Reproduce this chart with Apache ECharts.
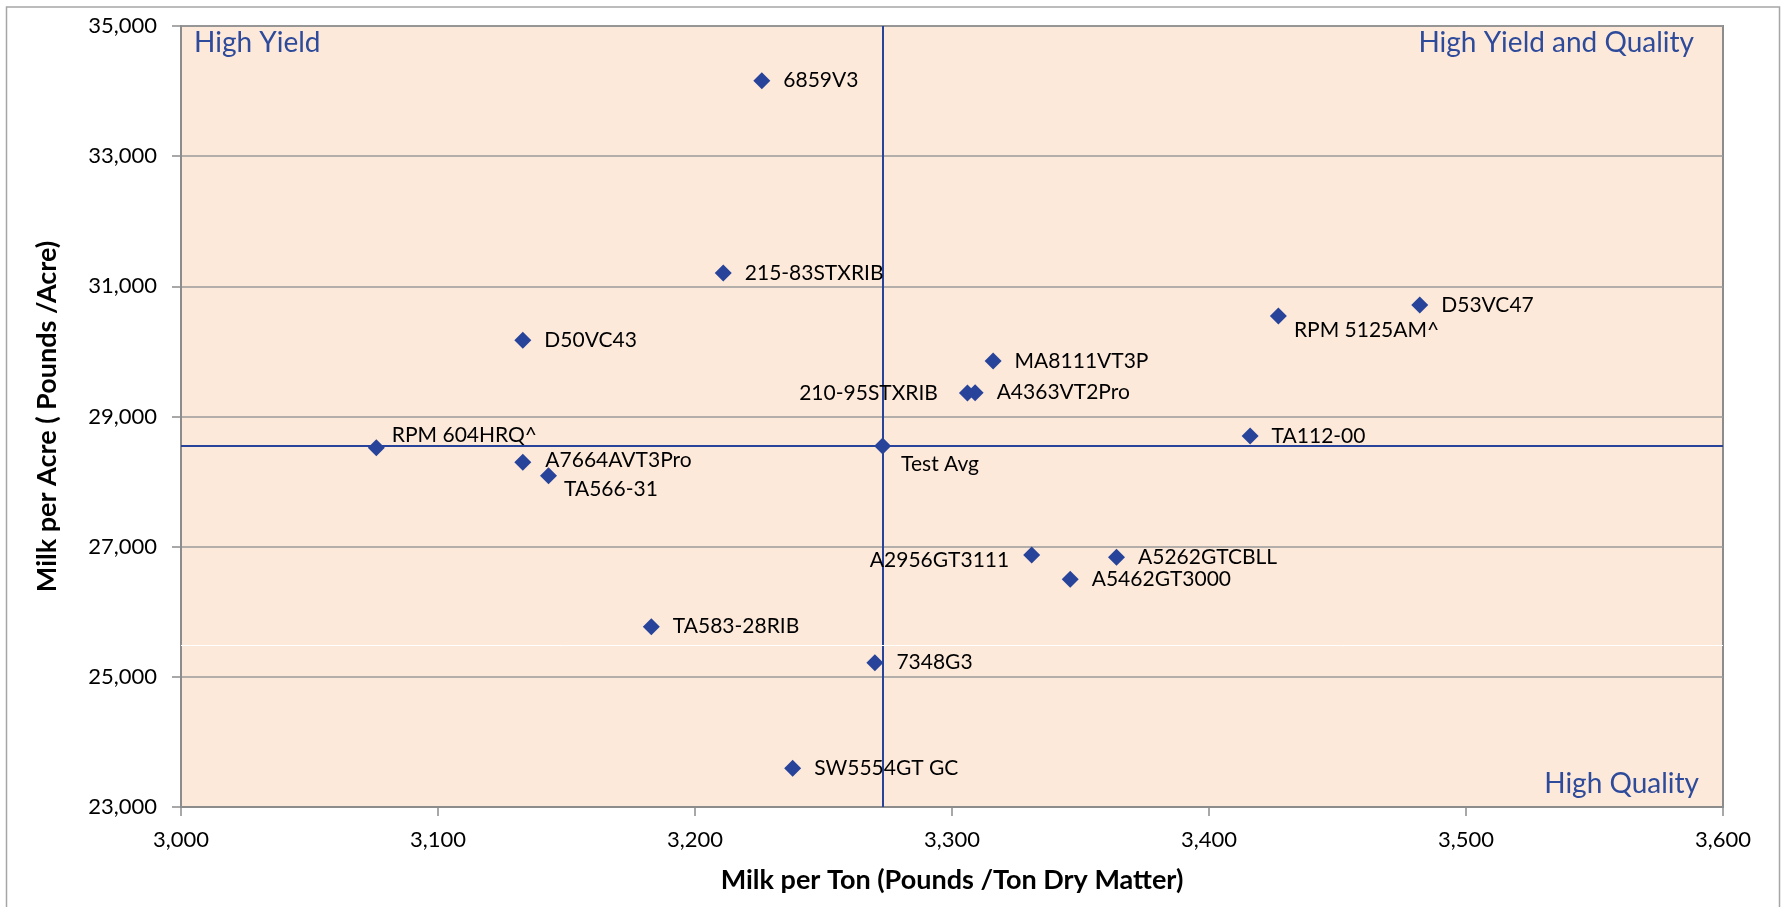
<!DOCTYPE html>
<html>
<head>
<meta charset="utf-8">
<script src="https://cdn.jsdelivr.net/npm/echarts@6/dist/echarts.min.js"></script>
<style>
html,body{margin:0;padding:0;background:#fff;}
#chart{width:1787px;height:907px;}
</style>
</head>
<body>
<div id="chart"></div>
<script>
// ---- data ----
const hybrids = ['6859V3','215-83STXRIB','D50VC43','RPM 604HRQ^','A7664AVT3Pro','TA566-31','TA583-28RIB','7348G3','SW5554GT GC','Test Avg','210-95STXRIB','A4363VT2Pro','MA8111VT3P','A2956GT3111','A5462GT3000','A5262GTCBLL','TA112-00','RPM 5125AM^','D53VC47'];
const milkPerTon = [3226,3211,3133,3076,3133,3143,3183,3270,3238,3273,3306,3309,3316,3331,3346,3364,3416,3427,3482];
const milkPerAcre = [34160,31205,30173,28520,28296,28090,25770,25217,23594,28548,29360,29366,29852,26872,26498,26836,28700,30544,30713];
const testAvgTon = 3273;
const testAvgAcre = 28548;
const xTicks = [3000,3100,3200,3300,3400,3500,3600];
const yTicks = [23000,25000,27000,29000,31000,33000,35000];
const quadrantLabels = ['High Yield','High Yield and Quality','High Quality'];

// ---- label placement (style only) ----
const labelStyle = {
  'RPM 604HRQ^': {offset:[-6,-13]},
  'A7664AVT3Pro': {offset:[1,-2]},
  'TA566-31': {offset:[-6,14]},
  'Test Avg': {offset:[-3,18]},
  'RPM 5125AM^': {offset:[-6,14]},
  '210-95STXRIB': {position:'left', distance:21},
  'A2956GT3111': {position:'left', distance:14, offset:[0,5]}
};

const FONT = 'Lato, "Open Sans", sans-serif';
const BLUE = '#27449a';

const data = hybrids.map((n,i)=>{
  const d = {name:n, value:[milkPerTon[i], milkPerAcre[i]]};
  if (labelStyle[n]) d.label = Object.assign({}, labelStyle[n]);
  return d;
});

const fmt = v => v.toLocaleString('en-US');

const chart = echarts.init(document.getElementById('chart'));
chart.setOption({
  animation:false,
  backgroundColor:'#ffffff',
  graphic:[
    {type:'rect', shape:{x:6.5,y:7,width:1773,height:940}, style:{fill:'none', stroke:'#a6a6a6', lineWidth:1.5}, z:-10},
    {type:'text', left:194, top:29, style:{text:quadrantLabels[0], fill:'#2e4b9b', font:'28px '+FONT}},
    {type:'text', right:93, top:29, style:{text:quadrantLabels[1], fill:'#2e4b9b', font:'28px '+FONT}},
    {type:'text', right:88, top:770, style:{text:quadrantLabels[2], fill:'#2e4b9b', font:'28px '+FONT}}
  ],
  grid:{left:181, right:64, top:26, bottom:100, show:true, backgroundColor:'#fde9da', borderColor:'#8c8c8c', borderWidth:2},
  xAxis:{
    type:'value', min:xTicks[0], max:xTicks[xTicks.length-1], interval:100,
    name:'Milk per Ton (Pounds /Ton Dry Matter)', nameLocation:'middle', nameGap:60,
    nameTextStyle:{fontFamily:FONT, fontWeight:'bold', fontSize:27, color:'#000'},
    axisLine:{show:true, lineStyle:{color:'#8c8c8c', width:2}},
    axisTick:{show:true, inside:false, length:9, lineStyle:{color:'#8c8c8c', width:1.5}},
    axisLabel:{fontFamily:FONT, fontSize:22, color:'#000', margin:22, formatter:fmt},
    splitLine:{show:false}
  },
  yAxis:{
    type:'value', min:yTicks[0], max:yTicks[yTicks.length-1], interval:2000,
    name:'Milk per Acre ( Pounds /Acre)', nameLocation:'middle', nameGap:120,
    nameTextStyle:{fontFamily:FONT, fontWeight:'bold', fontSize:27, color:'#000'},
    axisLine:{show:true, lineStyle:{color:'#8c8c8c', width:2}},
    axisTick:{show:true, inside:false, length:9, lineStyle:{color:'#8c8c8c', width:1.5}},
    axisLabel:{fontFamily:FONT, fontSize:22, color:'#000', margin:24, formatter:fmt},
    splitLine:{show:true, lineStyle:{color:'#9a9a9a', width:1.5}}
  },
  series:[{
    type:'scatter',
    symbol:'diamond',
    symbolSize:17,
    itemStyle:{color:BLUE, opacity:1},
    data:data,
    label:{show:true, position:'right', distance:13, fontFamily:FONT, fontSize:21, color:'#000', formatter:p=>p.name},
    markLine:{
      silent:true, symbol:'none', label:{show:false}, z:1,
      data:[
        {xAxis:testAvgTon, lineStyle:{color:BLUE, width:2, type:'solid'}},
        {yAxis:testAvgAcre, lineStyle:{color:BLUE, width:2, type:'solid'}},
        {yAxis:25478, lineStyle:{color:'#ffffff', width:1, type:'solid'}}
      ]
    }
  }]
});
</script>
</body>
</html>
